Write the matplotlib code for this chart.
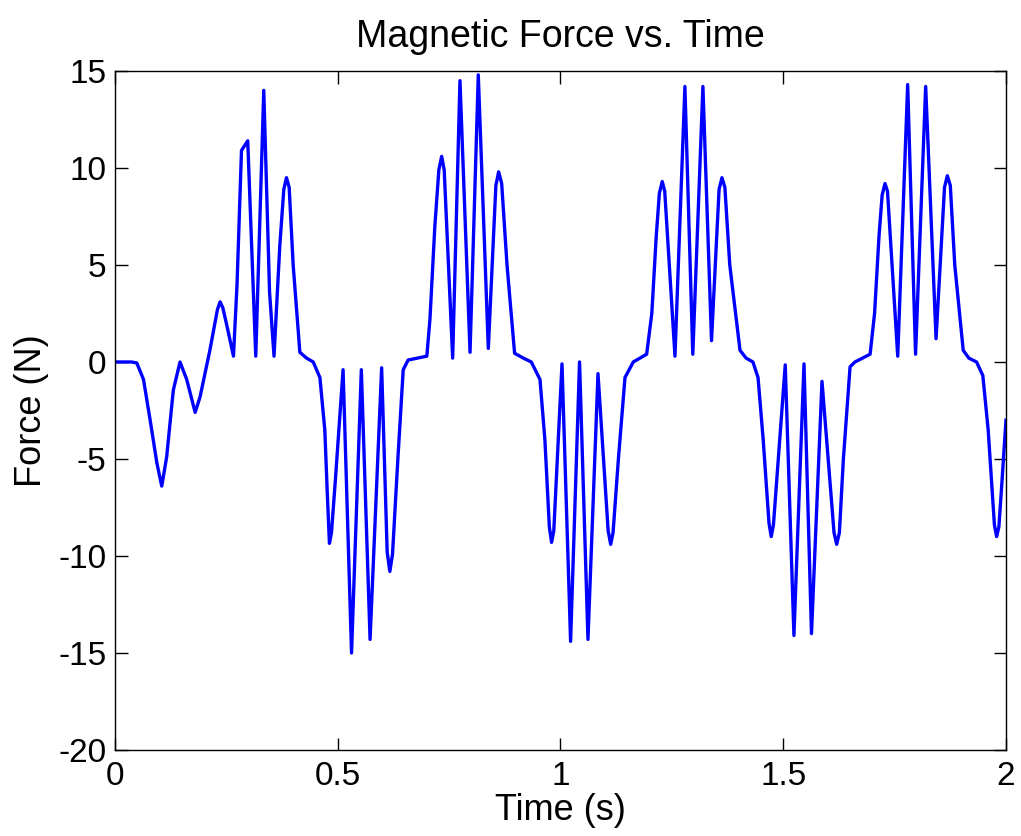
import matplotlib.pyplot as plt

plt.rcParams['font.family'] = ['Liberation Sans', 'DejaVu Sans']
plt.rcParams['axes.unicode_minus'] = False

# --- Data (time in s, force in N) ---
time_s = [0.0, 0.037, 0.049, 0.064, 0.079, 0.094, 0.105, 0.116, 0.131, 0.146,
          0.161, 0.18, 0.191, 0.213, 0.23, 0.236, 0.242, 0.25, 0.266, 0.274,
          0.284, 0.298, 0.316, 0.334, 0.347, 0.357, 0.37, 0.379, 0.385, 0.391,
          0.40, 0.415, 0.43, 0.445, 0.46, 0.471, 0.477, 0.4814, 0.486, 0.495,
          0.512, 0.531, 0.553, 0.5726, 0.5986, 0.611, 0.617, 0.623, 0.635, 0.647,
          0.658, 0.70, 0.707, 0.718, 0.727, 0.7333, 0.739, 0.758, 0.7744, 0.797,
          0.8155, 0.838, 0.855, 0.8612, 0.868, 0.88, 0.897, 0.9166, 0.9345, 0.954,
          0.965, 0.975, 0.98, 0.985, 1.0034, 1.0227, 1.0428, 1.0617, 1.0842, 1.107,
          1.1127, 1.118, 1.13, 1.1448, 1.1634, 1.1934, 1.205, 1.215, 1.222, 1.2284,
          1.234, 1.257, 1.2793, 1.297, 1.3197, 1.339, 1.356, 1.3625, 1.369, 1.38,
          1.403, 1.4166, 1.432, 1.4434, 1.455, 1.468, 1.473, 1.478, 1.5045, 1.524,
          1.5466, 1.5634, 1.587, 1.614, 1.62, 1.626, 1.635, 1.65, 1.661, 1.695,
          1.705, 1.715, 1.722, 1.7284, 1.734, 1.757, 1.7793, 1.797, 1.8197, 1.843,
          1.862, 1.8683, 1.875, 1.885, 1.904, 1.9166, 1.934, 1.948, 1.96, 1.974,
          1.979, 1.984, 1.99, 2.0]
force_n = [0.0, 0.0, -0.05, -0.9, -3.0, -5.2, -6.4, -4.9, -1.45, 0.0,
           -0.9, -2.6, -1.8, 0.6, 2.7, 3.1, 2.8, 2.0, 0.3, 4.0,
           10.9, 11.4, 0.3, 14.0, 3.6, 0.3, 6.0, 8.9, 9.5, 9.0,
           5.0, 0.5, 0.2, 0.0, -0.8, -3.5, -7.0, -9.35, -8.8, -6.0,
           -0.4, -15.0, -0.4, -14.3, -0.3, -9.8, -10.8, -9.9, -5.0, -0.4,
           0.1, 0.3, 2.2, 7.0, 9.9, 10.6, 9.9, 0.2, 14.5, 0.5,
           14.8, 0.7, 9.1, 9.8, 9.2, 5.0, 0.45, 0.2, 0.0, -0.9,
           -4.0, -8.5, -9.3, -8.7, -0.1, -14.4, 0.0, -14.3, -0.6, -8.7,
           -9.4, -8.8, -5.0, -0.8, 0.0, 0.4, 2.5, 6.5, 8.7, 9.3,
           8.8, 0.3, 14.2, 0.4, 14.2, 1.1, 8.9, 9.5, 9.0, 5.0,
           0.6, 0.2, 0.0, -0.8, -4.0, -8.3, -9.0, -8.4, -0.15, -14.1,
           -0.1, -14.0, -1.0, -8.8, -9.4, -8.8, -5.0, -0.25, 0.0, 0.4,
           2.5, 6.5, 8.6, 9.2, 8.8, 0.3, 14.3, 0.4, 14.2, 1.2,
           9.0, 9.6, 9.1, 5.0, 0.6, 0.2, 0.0, -0.7, -3.5, -8.4,
           -9.0, -8.5, -6.5, -3.0]

x_ticks = [0, 0.5, 1, 1.5, 2]
x_tick_labels = ['0', '0.5', '1', '1.5', '2']
y_ticks = [-20, -15, -10, -5, 0, 5, 10, 15]

# --- Plot ---
fig = plt.figure(figsize=(10.21, 8.36), dpi=100)
ax = fig.add_axes([0.1126, 0.1029, 0.8727, 0.8122])
ax.plot(time_s, force_n, color='#0000ff', linewidth=2.4)

ax.set_xlim(0, 2)
ax.set_ylim(-20, 15)
ax.set_xticks(x_ticks)
ax.set_xticklabels(x_tick_labels)
ax.set_yticks(y_ticks)
ax.tick_params(direction='in', length=9, width=1, labelsize=24,
               top=True, right=True)
ax.tick_params(axis='x', pad=8)
ax.tick_params(axis='y', pad=6)
for spine in ax.spines.values():
    spine.set_linewidth(1)

ax.set_title('Magnetic Force vs. Time', fontsize=27, pad=17)
ax.set_xlabel('Time (s)', fontsize=26, labelpad=1)
ax.set_ylabel('Force (N)', fontsize=26, labelpad=7)

fig.savefig('out.png', dpi=100)
